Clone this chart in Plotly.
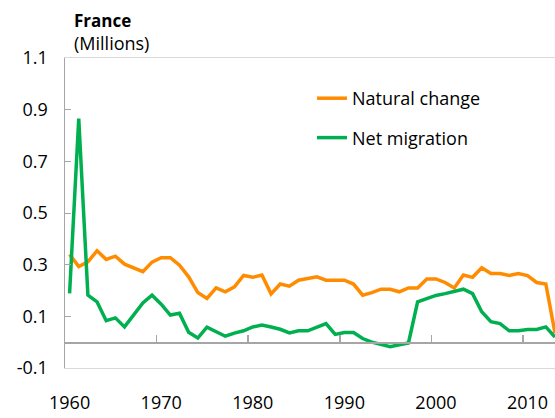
import plotly.graph_objects as go

years = list(range(1960, 2014))
natural_change = [
    0.340, 0.293, 0.311, 0.354, 0.320, 0.333, 0.302, 0.288, 0.273, 0.310,
    0.327, 0.327, 0.298, 0.253, 0.192, 0.169, 0.210, 0.195, 0.214, 0.258,
    0.251, 0.260, 0.187, 0.225, 0.217, 0.240, 0.247, 0.253, 0.240, 0.240,
    0.240, 0.225, 0.182, 0.192, 0.205, 0.205, 0.195, 0.210, 0.210, 0.245,
    0.245, 0.231, 0.210, 0.260, 0.251, 0.288, 0.266, 0.266, 0.258, 0.266,
    0.258, 0.231, 0.225, 0.035,
]
net_migration = [
    0.189, 0.865, 0.182, 0.156, 0.083, 0.094, 0.059, 0.105, 0.152, 0.182,
    0.147, 0.105, 0.112, 0.038, 0.016, 0.058, 0.042, 0.023, 0.035, 0.044,
    0.059, 0.066, 0.059, 0.050, 0.036, 0.044, 0.044, 0.057, 0.072, 0.030,
    0.037, 0.037, 0.014, 0.000, -0.009, -0.018, -0.010, -0.003, 0.156, 0.169,
    0.181, 0.188, 0.196, 0.205, 0.188, 0.118, 0.079, 0.072, 0.044, 0.044,
    0.049, 0.049, 0.059, 0.020,
]
x_tick_years = [1960, 1970, 1980, 1990, 2000, 2010]
x_boundary_ticks = [1969.5, 1979.5, 1989.5, 1999.5, 2009.5]
y_ticks = [-0.1, 0.1, 0.3, 0.5, 0.7, 0.9, 1.1]
y_tick_text = ["-0.1", "0.1", "0.3", "0.5", "0.7", "0.9", "1.1"]

FONT = "Open Sans"
ORANGE = "#FF8C00"
GREEN = "#00B050"
AXIS_GRAY = "#A6A6A6"
BORDER_GRAY = "#D9D9D9"

W, H = 555, 418
ML, MR, MT, MB = 65, 0, 58, 50
PW, PH = W - ML - MR, H - MT - MB

def px_x(px):
    return (px - ML) / PW

def px_y(py):
    return (H - MB - py) / PH

fig = go.Figure()
fig.add_trace(go.Scatter(
    x=years, y=natural_change, mode="lines", name="Natural change",
    line=dict(color=ORANGE, width=3.5), legendgroup="a", hoverinfo="skip",
))
fig.add_trace(go.Scatter(
    x=years, y=net_migration, mode="lines", name="Net migration",
    line=dict(color=GREEN, width=3.5), legendgroup="b", hoverinfo="skip",
))
# helper trace so the zero-line axis (with boundary ticks) is drawn
fig.add_trace(go.Scatter(
    x=years, y=natural_change, xaxis="x2", mode="lines", showlegend=False,
    line=dict(width=0), opacity=0, hoverinfo="skip",
))

yr = [-0.1, 1.1]
zero_pos = (0 - yr[0]) / (yr[1] - yr[0])

fig.update_layout(
    width=W, height=H,
    margin=dict(l=ML, r=MR, t=MT, b=MB, pad=0),
    paper_bgcolor="white", plot_bgcolor="white",
    font=dict(family=FONT, size=18, color="#000000"),
    showlegend=True,
    legend=dict(
        x=px_x(312), y=px_y(80), xanchor="left", yanchor="top",
        font=dict(family=FONT, size=18, color="#000000"),
        bgcolor="rgba(0,0,0,0)", borderwidth=0, tracegroupgap=13,
    ),
    xaxis=dict(
        range=[1959.5, 2013.0], showgrid=False, zeroline=False,
        showline=True, linecolor=BORDER_GRAY, linewidth=1, mirror=True,
        tickmode="array", tickvals=x_tick_years,
        ticktext=[str(v) for v in x_tick_years],
        ticks="", ticklabelstandoff=18,
        tickfont=dict(family=FONT, size=18, color="#000000"),
    ),
    xaxis2=dict(
        overlaying="x", anchor="free", position=zero_pos, side="bottom",
        range=[1959.5, 2013.0], showgrid=False, zeroline=False,
        showline=True, linecolor=AXIS_GRAY, linewidth=1.5,
        tickmode="array", tickvals=x_boundary_ticks,
        ticks="inside", ticklen=7, tickwidth=1.5, tickcolor=AXIS_GRAY,
        showticklabels=False,
    ),
    yaxis=dict(
        range=yr, showgrid=False, zeroline=False,
        showline=True, linecolor=AXIS_GRAY, linewidth=1.5,
        tickmode="array", tickvals=y_ticks, ticktext=y_tick_text,
        ticks="inside", ticklen=6, tickwidth=1, tickcolor=AXIS_GRAY,
        ticklabelstandoff=12,
        tickfont=dict(family=FONT, size=18, color="#000000"),
    ),
    annotations=[
        dict(text="<b>France</b>", xref="paper", yref="paper",
             x=px_x(72), y=px_y(20), xanchor="left", yanchor="middle",
             showarrow=False, font=dict(family=FONT, size=17, color="#000000")),
        dict(text="(Millions)", xref="paper", yref="paper",
             x=px_x(72), y=px_y(43), xanchor="left", yanchor="middle",
             showarrow=False, font=dict(family=FONT, size=18, color="#000000")),
    ],
)

fig.write_html(
    "out.html",
    config={"displayModeBar": False, "staticPlot": True},
    post_script="document.body.style.margin='0px';document.body.style.overflow='hidden';",
)
